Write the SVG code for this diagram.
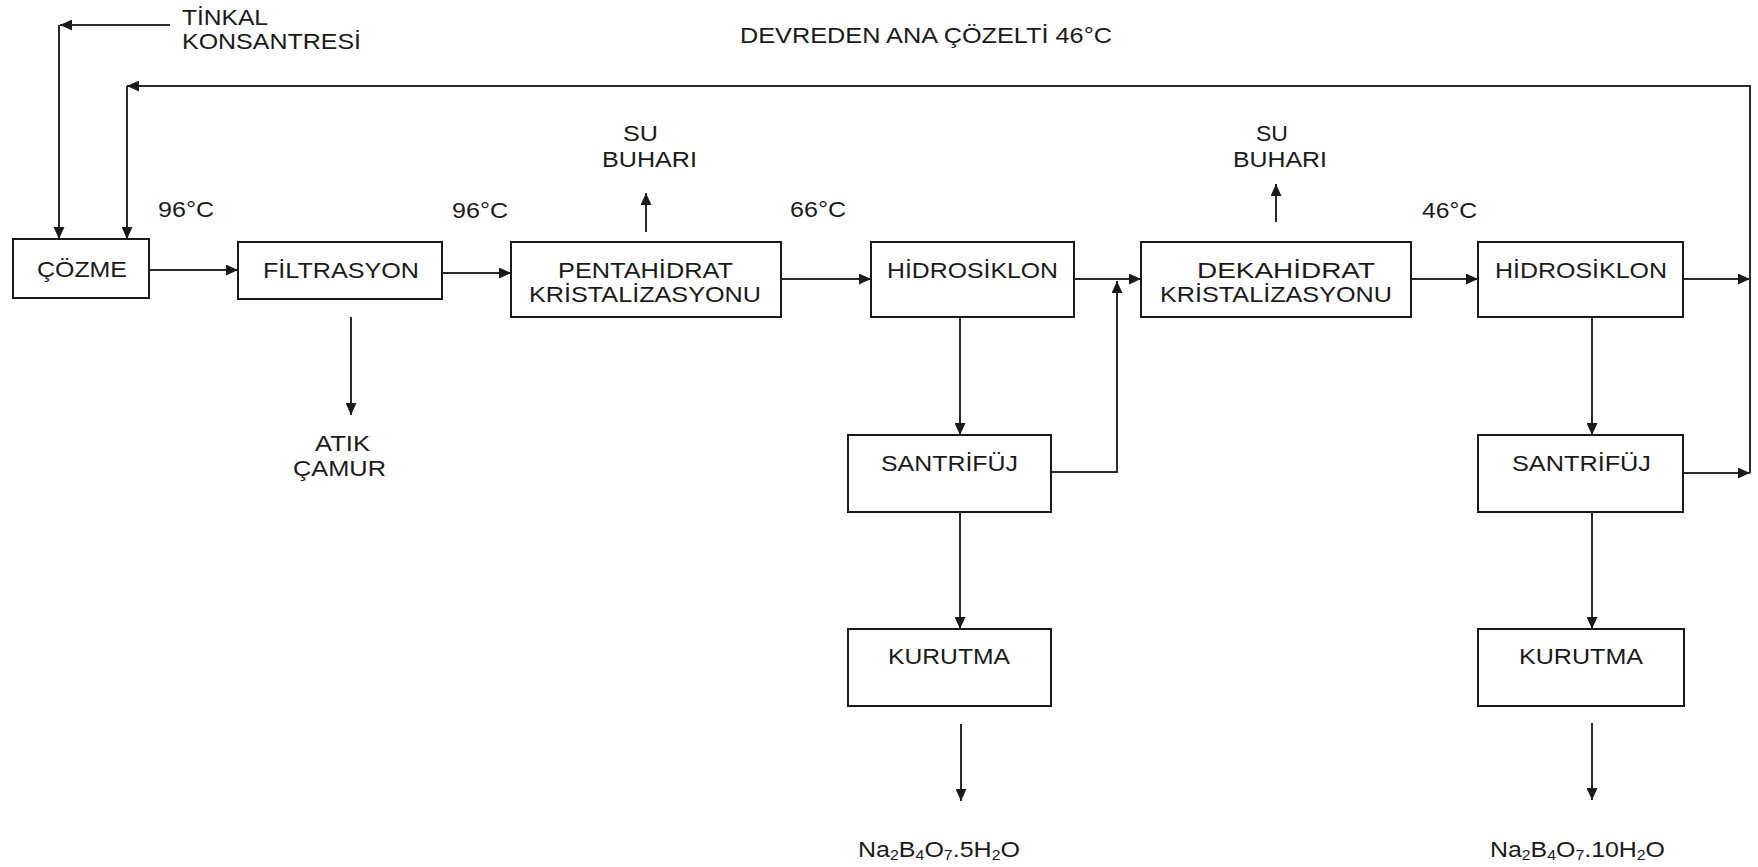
<svg xmlns="http://www.w3.org/2000/svg" width="1758" height="867" viewBox="0 0 1758 867">
<style>
text{font-family:"Liberation Sans",Arial,sans-serif;font-size:22px;fill:#1a1a1a}
.box{fill:#fff;stroke:#1a1a1a;stroke-width:2}
.ln{fill:none;stroke:#2a2a2a;stroke-width:2}
.sub{font-size:14px}
</style>
<defs>
<marker id="ah" markerUnits="userSpaceOnUse" markerWidth="12" markerHeight="11" refX="12" refY="5.5" orient="auto">
<path d="M0,0 L12,5.5 L0,11 z" fill="#1a1a1a"/>
</marker>
</defs>
<rect width="1758" height="867" fill="#fff"/>
<g id="connectors">
<path class="ln" d="M170,25 H60" marker-end="url(#ah)"/>
<path class="ln" d="M59,25 V239" marker-end="url(#ah)"/>
<path class="ln" d="M1750,473 V86 H127" marker-end="url(#ah)"/>
<path class="ln" d="M127,86 V239" marker-end="url(#ah)"/>
<path class="ln" d="M149,270 H238" marker-end="url(#ah)"/>
<path class="ln" d="M442,273 H511" marker-end="url(#ah)"/>
<path class="ln" d="M781,279 H871" marker-end="url(#ah)"/>
<path class="ln" d="M1074,279 H1141" marker-end="url(#ah)"/>
<path class="ln" d="M1051,472 H1117 V281" marker-end="url(#ah)"/>
<path class="ln" d="M1411,279 H1478" marker-end="url(#ah)"/>
<path class="ln" d="M1683,279 H1750" marker-end="url(#ah)"/>
<path class="ln" d="M1683,473 H1750" marker-end="url(#ah)"/>
<path class="ln" d="M646,232 V193" marker-end="url(#ah)"/>
<path class="ln" d="M1276,222 V184" marker-end="url(#ah)"/>
<path class="ln" d="M351,317 V415" marker-end="url(#ah)"/>
<path class="ln" d="M960,317 V435" marker-end="url(#ah)"/>
<path class="ln" d="M960,512 V629" marker-end="url(#ah)"/>
<path class="ln" d="M961,724 V801" marker-end="url(#ah)"/>
<path class="ln" d="M1592,317 V435" marker-end="url(#ah)"/>
<path class="ln" d="M1592,512 V629" marker-end="url(#ah)"/>
<path class="ln" d="M1592,723 V800" marker-end="url(#ah)"/>
</g>
<g id="cozme"><rect class="box" x="13" y="239" width="136" height="59"/><text x="37" y="277" textLength="90" lengthAdjust="spacingAndGlyphs">ÇÖZME</text></g>
<g id="filtrasyon"><rect class="box" x="238" y="242" width="204" height="57"/><text x="263" y="278" textLength="156" lengthAdjust="spacingAndGlyphs">FİLTRASYON</text></g>
<g id="pentahidrat"><rect class="box" x="511" y="242" width="270" height="75"/><text x="558" y="278" textLength="175" lengthAdjust="spacingAndGlyphs">PENTAHİDRAT</text><text x="529" y="302" textLength="232" lengthAdjust="spacingAndGlyphs">KRİSTALİZASYONU</text></g>
<g id="hidrosiklon1"><rect class="box" x="871" y="242" width="203" height="75"/><text x="887" y="278" textLength="171" lengthAdjust="spacingAndGlyphs">HİDROSİKLON</text></g>
<g id="dekahidrat"><rect class="box" x="1141" y="242" width="270" height="75"/><text x="1197" y="278" textLength="178" lengthAdjust="spacingAndGlyphs">DEKAHİDRAT</text><text x="1160" y="302" textLength="232" lengthAdjust="spacingAndGlyphs">KRİSTALİZASYONU</text></g>
<g id="hidrosiklon2"><rect class="box" x="1478" y="242" width="205" height="75"/><text x="1495" y="278" textLength="172" lengthAdjust="spacingAndGlyphs">HİDROSİKLON</text></g>
<g id="santrifuj1"><rect class="box" x="848" y="435" width="203" height="77"/><text x="881" y="471" textLength="137" lengthAdjust="spacingAndGlyphs">SANTRİFÜJ</text></g>
<g id="santrifuj2"><rect class="box" x="1478" y="435" width="205" height="77"/><text x="1512" y="471" textLength="139" lengthAdjust="spacingAndGlyphs">SANTRİFÜJ</text></g>
<g id="kurutma1"><rect class="box" x="848" y="629" width="203" height="77"/><text x="888" y="664" textLength="122" lengthAdjust="spacingAndGlyphs">KURUTMA</text></g>
<g id="kurutma2"><rect class="box" x="1478" y="629" width="206" height="77"/><text x="1519" y="664" textLength="124" lengthAdjust="spacingAndGlyphs">KURUTMA</text></g>
<g id="labels">
<text x="182" y="25" textLength="86" lengthAdjust="spacingAndGlyphs">TİNKAL</text>
<text x="182" y="49" textLength="179" lengthAdjust="spacingAndGlyphs">KONSANTRESİ</text>
<text x="740" y="43" textLength="372" lengthAdjust="spacingAndGlyphs">DEVREDEN ANA ÇÖZELTİ 46°C</text>
<text x="158" y="217" textLength="56" lengthAdjust="spacingAndGlyphs">96°C</text>
<text x="452" y="218" textLength="56" lengthAdjust="spacingAndGlyphs">96°C</text>
<text x="790" y="217" textLength="56" lengthAdjust="spacingAndGlyphs">66°C</text>
<text x="1422" y="218" textLength="55" lengthAdjust="spacingAndGlyphs">46°C</text>
<text x="623" y="141" textLength="35" lengthAdjust="spacingAndGlyphs">SU</text>
<text x="602" y="167" textLength="95" lengthAdjust="spacingAndGlyphs">BUHARI</text>
<text x="1256" y="141" textLength="32" lengthAdjust="spacingAndGlyphs">SU</text>
<text x="1233" y="167" textLength="94" lengthAdjust="spacingAndGlyphs">BUHARI</text>
<text x="315" y="451" textLength="55" lengthAdjust="spacingAndGlyphs">ATIK</text>
<text x="293" y="476" textLength="93" lengthAdjust="spacingAndGlyphs">ÇAMUR</text>
<text x="858" y="857" textLength="162" lengthAdjust="spacingAndGlyphs">Na<tspan class="sub" dy="3">2</tspan><tspan dy="-3">B</tspan><tspan class="sub" dy="3">4</tspan><tspan dy="-3">O</tspan><tspan class="sub" dy="3">7</tspan><tspan dy="-3">.5H</tspan><tspan class="sub" dy="3">2</tspan><tspan dy="-3">O</tspan></text>
<text x="1490" y="857" textLength="175" lengthAdjust="spacingAndGlyphs">Na<tspan class="sub" dy="3">2</tspan><tspan dy="-3">B</tspan><tspan class="sub" dy="3">4</tspan><tspan dy="-3">O</tspan><tspan class="sub" dy="3">7</tspan><tspan dy="-3">.10H</tspan><tspan class="sub" dy="3">2</tspan><tspan dy="-3">O</tspan></text>
</g>
</svg>
